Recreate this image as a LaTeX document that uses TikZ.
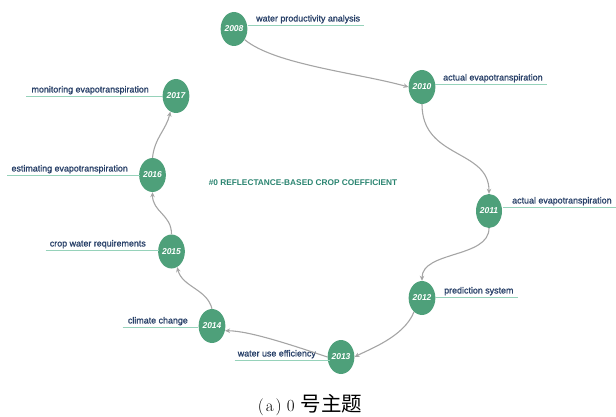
\documentclass[tikz,border=0pt]{standalone}
\usepackage{fontspec}
\setmainfont{Latin Modern Roman}
\newfontfamily\labfont[FakeBold=1.2]{Liberation Sans}
\newfontfamily\plainsans{Liberation Sans}
\newfontfamily\cjk{Noto Sans CJK SC}
\usetikzlibrary{shapes.geometric,arrows.meta}
\definecolor{nodegreen}{RGB}{78,160,122}
\definecolor{labblue}{RGB}{40,64,104}
\definecolor{ulgreen}{RGB}{150,210,186}
\definecolor{titleteal}{RGB}{42,132,112}
\definecolor{arrgray}{RGB}{165,165,165}
\tikzset{
  yearnode/.style={ellipse, fill=nodegreen, draw=none, minimum width=26pt, minimum height=34pt, inner sep=0pt,
    text=white, font=\plainsans\fontsize{8.5}{9}\selectfont\bfseries\itshape},
  labnode/.style={inner xsep=0pt, inner ysep=1.5pt, text=labblue, font=\labfont\fontsize{8.9}{10}\selectfont},
  uline/.style={draw=ulgreen, line width=0.9pt},
  conn/.style={draw=arrgray, line width=1.1pt, -{Stealth[length=5pt,width=4.5pt]}},
}
\begin{document}
\begin{tikzpicture}[x=1pt,y=-1pt]
\useasboundingbox (0,0) rectangle (616,417);
% year nodes
\node[yearnode] (y2008) at (234,29) {2008};
\node[yearnode] (y2010) at (422,87) {2010};
\node[yearnode] (y2011) at (489,211) {2011};
\node[yearnode] (y2012) at (422,298) {2012};
\node[yearnode] (y2013) at (341,357) {2013};
\node[yearnode] (y2014) at (212,326) {2014};
\node[yearnode] (y2015) at (171.5,251.5) {2015};
\node[yearnode] (y2016) at (152.5,175) {2016};
\node[yearnode] (y2017) at (176,96) {2017};
% labels (right side)
\node[labnode, anchor=south west] (l2008) at (256,25) {water productivity analysis};
\node[labnode, anchor=south west] (l2010) at (443,84) {actual evapotranspiration};
\node[labnode, anchor=south west] (l2011) at (512,207) {actual evapotranspiration};
\node[labnode, anchor=south west] (l2012) at (444,297) {prediction system};
% labels (left side)
\node[labnode, anchor=south east] (l2013) at (316,360) {water use efficiency};
\node[labnode, anchor=south east] (l2014) at (188,327) {climate change};
\node[labnode, anchor=south east] (l2015) at (146,250) {crop water requirements};
\node[labnode, anchor=south east] (l2016) at (128,175) {estimating evapotranspiration};
\node[labnode, anchor=south east] (l2017) at (149,96) {monitoring evapotranspiration};
% underlines
\draw[uline] ([xshift=-8pt]l2008.south west) -- ([xshift=4pt]l2008.south east);
\draw[uline] ([xshift=-8pt]l2010.south west) -- ([xshift=4pt]l2010.south east);
\draw[uline] ([xshift=-9pt]l2011.south west) -- ([xshift=6pt]l2011.south east);
\draw[uline] ([xshift=-9pt]l2012.south west) -- ([xshift=4pt]l2012.south east);
\draw[uline] ([xshift=-3pt]l2013.south west) -- ([xshift=14pt]l2013.south east);
\draw[uline] ([xshift=-5pt]l2014.south west) -- ([xshift=10pt]l2014.south east);
\draw[uline] ([xshift=-4pt]l2015.south west) -- ([xshift=13pt]l2015.south east);
\draw[uline] ([xshift=-4pt]l2016.south west) -- ([xshift=12pt]l2016.south east);
\draw[uline] ([xshift=-5pt]l2017.south west) -- ([xshift=14pt]l2017.south east);
% connectors
\draw[conn] (y2008.-45) .. controls +(30,25) and +(-50,-14) .. (y2010.west);
\draw[conn] (y2010.south) .. controls +(0,55) and +(0,-45) .. (y2011.north);
\draw[conn] (y2011.south) .. controls +(0,30) and +(0,-30) .. (y2012.north);
\draw[conn] (y2012.-120) .. controls +(-10,25) and +(15,-8) .. (y2013.east);
\draw[conn] (y2013.west) .. controls +(-30,-10) and +(25,0) .. (y2014.-20);
\draw[conn] (y2014.north) .. controls +(-5,-20) and +(5,20) .. (y2015.-70);
\draw[conn] (y2015.north) .. controls +(0,-20) and +(0,20) .. (y2016.south);
\draw[conn] (y2016.north) .. controls +(2,-20) and +(-4,18) .. (y2017.-110);
% title
\node[text=titleteal, font=\plainsans\fontsize{8.3}{9}\selectfont\bfseries] (title) at (303,183) {\#0 REFLECTANCE-BASED CROP COEFFICIENT};
% caption
\node[anchor=base, font=\fontsize{17}{18}\selectfont] (cap) at (310,411) {(\kern2pt a\kern2pt)\kern5pt 0\kern6pt{\cjk\fontsize{20.5}{21}\selectfont 号主题}};
\end{tikzpicture}
\end{document}
